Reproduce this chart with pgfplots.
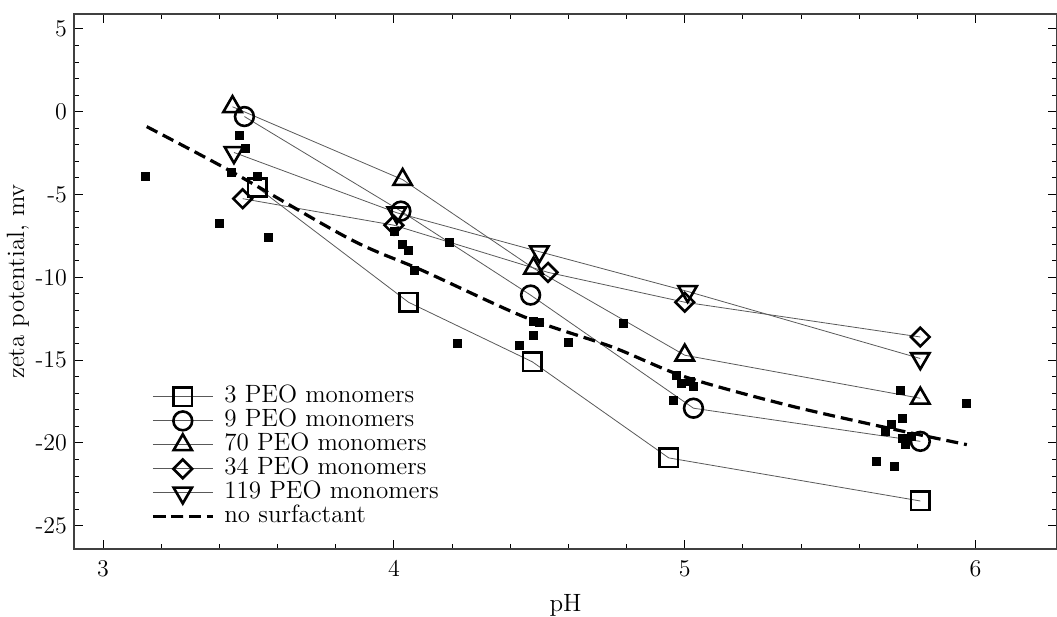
\documentclass[border=0pt]{standalone}
\usepackage{fontspec}
\usepackage{pgfplots}
\pgfplotsset{compat=1.18}
\begin{document}
\begin{tikzpicture}[font=\fontsize{12.5}{15}\selectfont]
\path[use as bounding box] (-37pt,-34pt) rectangle (491.5pt,274.5pt);
\begin{axis}[
  at={(0,0)}, anchor=south west,
  scale only axis, width=491.5pt, height=267.5pt,
  xmin=2.9, xmax=6.28, ymin=-26.4, ymax=5.9,
  xtick={3,4,5,6}, xticklabels={3,4,5,6},
  ytick={-25,-20,-15,-10,-5,0,5}, yticklabels={-25,-20,-15,-10,-5,0,5},
  minor x tick num=4, minor y tick num=4,
  major tick length=4.5pt, minor tick length=2.5pt,
  tick style={black, line width=0.5pt},
  axis line style={black!75, line width=0.9pt},
  every tick label/.append style={font=\fontsize{12}{14}\selectfont},
  xticklabel style={yshift=-2pt},
  xlabel={pH}, ylabel={zeta potential, mv},
  every axis x label/.style={at={(axis description cs:0.5,-0.105)},anchor=center},
  every axis y label/.style={at={(axis description cs:-0.057,0.5)},rotate=90,anchor=center},
  legend style={draw=none, fill=none, at={(axis description cs:0.072,0.315)}, anchor=north west,
    nodes={inner sep=1pt, text height=8pt, text depth=2pt, font=\fontsize{12.5}{15}\selectfont},
    row sep=0pt, column sep=4pt, legend cell align=left},
  legend image code/.code={\draw[mark repeat=2,mark phase=2,#1] plot coordinates {(0pt,0pt) (15pt,0pt) (30pt,0pt)};},
  every axis plot/.append style={line width=0.4pt, color=black!65},
]
% filled square scatter (no surfactant data)
\addplot[only marks, mark=square*, mark size=2pt, black, forget plot] coordinates {
(3.145,-3.9) (3.47,-1.42) (3.49,-2.2) (3.44,-3.67) (3.53,-3.9) (3.40,-6.75) (3.57,-7.6)
(4.0,-7.2) (4.03,-8.0) (4.05,-8.4) (4.07,-9.55) (4.19,-7.9)
(4.22,-14.0) (4.43,-14.1) (4.48,-12.65) (4.50,-12.7) (4.48,-13.5) (4.60,-13.9) (4.79,-12.8)
(4.97,-15.9) (4.99,-16.4) (5.02,-16.3) (5.03,-16.6) (4.96,-17.4)
(5.74,-16.8) (5.75,-18.5) (5.71,-18.9) (5.69,-19.3) (5.75,-19.7) (5.76,-20.1) (5.78,-19.6)
(5.66,-21.1) (5.72,-21.4) (5.97,-17.6)
};
\addplot[mark=square, mark size=4.6pt, mark options={solid, draw=black, line width=1.3pt}] coordinates {
(3.53,-4.57) (4.05,-11.5) (4.476,-15.1) (4.945,-20.9) (5.81,-23.5)};
\addlegendentry{3 PEO monomers}
\addplot[mark=o, mark size=4.7pt, mark options={solid, draw=black, line width=1.3pt}] coordinates {
(3.486,-0.29) (4.024,-6.0) (4.47,-11.07) (5.03,-17.9) (5.81,-19.9)};
\addlegendentry{9 PEO monomers}
\addplot[mark=triangle, mark size=5.3pt, mark options={solid, draw=black, line width=1.3pt}] coordinates {
(3.445,0.3) (4.03,-4.1) (4.48,-9.45) (5.0,-14.7) (5.81,-17.3)};
\addlegendentry{70 PEO monomers}
\addplot[mark=square, mark size=3.3pt, mark options={solid, draw=black, line width=1.3pt, rotate=45}] coordinates {
(3.48,-5.25) (4.0,-6.85) (4.53,-9.7) (5.0,-11.5) (5.81,-13.6)};
\addlegendentry{34 PEO monomers}
\addplot[mark=triangle, mark size=5.3pt, mark options={solid, draw=black, line width=1.3pt, rotate=180}] coordinates {
(3.45,-2.46) (4.01,-6.1) (4.5,-8.45) (5.01,-10.85) (5.81,-14.9)};
\addlegendentry{119 PEO monomers}
\addplot[smooth, black, line width=1.6pt, dash pattern=on 6pt off 3pt] coordinates {
(3.15,-0.9) (3.44,-3.6) (3.85,-7.7) (4.1,-9.6) (4.45,-12.4) (4.75,-14.2) (5.0,-16.0) (5.35,-17.7) (5.7,-19.1) (5.97,-20.1)};
\addlegendentry{no surfactant}
\end{axis}
\end{tikzpicture}
\end{document}
